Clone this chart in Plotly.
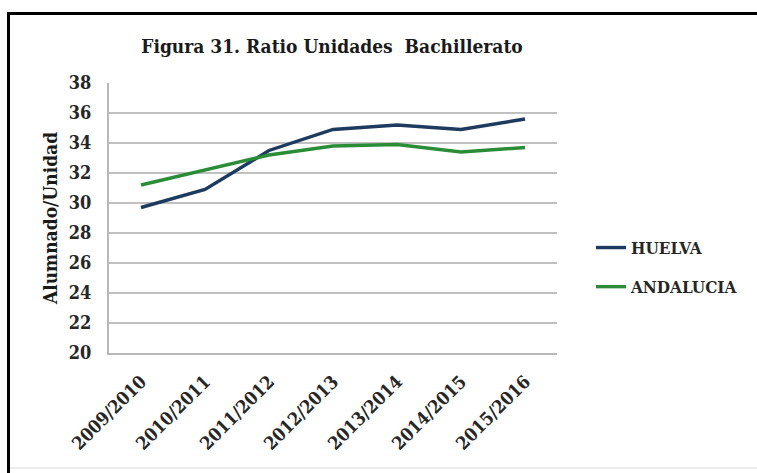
import plotly.graph_objects as go

categories = ["2009/2010", "2010/2011", "2011/2012", "2012/2013", "2013/2014", "2014/2015", "2015/2016"]
huelva = [29.7, 30.9, 33.5, 34.9, 35.2, 34.9, 35.6]
andalucia = [31.2, 32.2, 33.2, 33.8, 33.9, 33.4, 33.7]
y_ticks = [20, 22, 24, 26, 28, 30, 32, 34, 36, 38]

FONT = "DejaVu Serif Condensed, DejaVu Serif, serif"
W, H = 757, 473
L, R, T, B = 109, 200, 83, 120
pw, ph = W - L - R, H - T - B

def px(x):
    return (x - L) / pw

def py(y):
    return (H - B - y) / ph

fig = go.Figure()
fig.add_trace(go.Scatter(x=categories, y=huelva, name="HUELVA", mode="lines",
                         line=dict(color="#1d3a5f", width=3.4), legendgroup="a"))
fig.add_trace(go.Scatter(x=categories, y=andalucia, name="ANDALUCIA", mode="lines",
                         line=dict(color="#2a8c37", width=3.4), legendgroup="b"))

fig.update_layout(
    width=W, height=H,
    margin=dict(l=L, r=R, t=T, b=B),
    paper_bgcolor="white", plot_bgcolor="white",
    title=dict(text="Figura 31. Ratio Unidades  Bachillerato",
               x=332 / W, xanchor="center", y=1 - 46 / H, yanchor="middle",
               font=dict(family=FONT, size=19, color="#1a1a1a", weight="bold")),
    xaxis=dict(type="category", showgrid=False, showline=True, linecolor="#b8b8b8", linewidth=2,
               tickangle=-45, ticks="", ticklabelstandoff=9,
               tickfont=dict(family=FONT, size=18, color="#262626", weight="bold"),
               range=[-0.5, 6.5]),
    yaxis=dict(range=[20, 38], tickvals=y_ticks, showgrid=True, gridcolor="#c0c0c0", gridwidth=2,
               showline=True, linecolor="#b8b8b8", linewidth=2, ticks="", zeroline=False,
               ticklabelstandoff=12,
               tickfont=dict(family=FONT, size=18, color="#262626", weight="bold"),
               title=dict(text="Alumnado/Unidad", standoff=6,
                          font=dict(family=FONT, size=19, color="#1a1a1a", weight="bold"))),
    legend=dict(x=px(591), y=py(230), xanchor="left", yanchor="top",
                tracegroupgap=14, font=dict(family=FONT, size=17, color="#262626", weight="bold"),
                bgcolor="rgba(0,0,0,0)"),
    showlegend=True,
)

# frame lines (black border at top and left, faint line at bottom)
fig.add_shape(type="line", xref="paper", yref="paper", x0=px(8.5), x1=px(W), y0=py(13.5), y1=py(13.5),
              line=dict(color="black", width=3))
fig.add_shape(type="line", xref="paper", yref="paper", x0=px(8.5), x1=px(8.5), y0=py(12), y1=py(H),
              line=dict(color="black", width=3))
fig.add_shape(type="line", xref="paper", yref="paper", x0=px(10), x1=px(W), y0=py(468), y1=py(468),
              line=dict(color="#ececec", width=2))

fig.write_html("out.html", config={"displayModeBar": False},
               post_script="document.body.style.margin='0';")
